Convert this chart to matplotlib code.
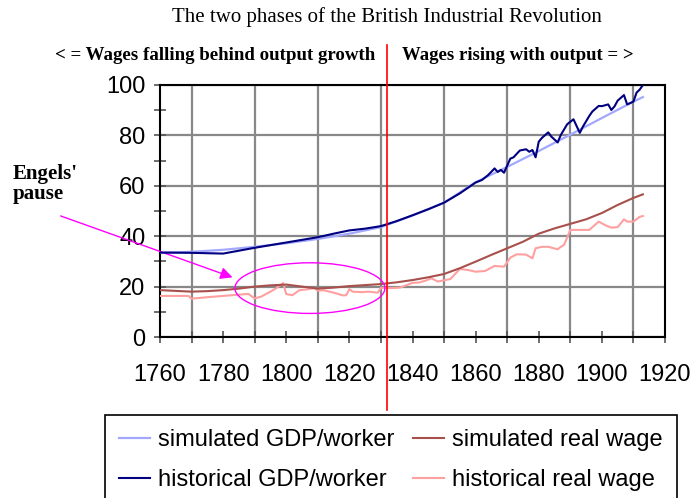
import matplotlib
matplotlib.use("Agg")
import matplotlib.pyplot as plt
from matplotlib.patches import Ellipse

# simulated GDP per worker
sim_gdp_years = [1760, 1770, 1780, 1790, 1800, 1810, 1820, 1830, 1840, 1850,
                 1860, 1870, 1880, 1890, 1900, 1910, 1913]
sim_gdp = [33.5, 33.8, 34.6, 35.8, 37.2, 38.9, 41.0, 43.6, 48.2, 53.3,
           61.4, 67.5, 73.8, 80.3, 86.9, 93.4, 95.2]

# historical GDP per worker
hist_gdp_years = [1760, 1770, 1780, 1790, 1800, 1810, 1815, 1820, 1825, 1830,
                  1835, 1840, 1845, 1850, 1855, 1860, 1862, 1864, 1866, 1867,
                  1868, 1869, 1871, 1872, 1874, 1876, 1877, 1878, 1879, 1880,
                  1881, 1883, 1884, 1886, 1887, 1889, 1891, 1893, 1894, 1896,
                  1897, 1899, 1900, 1902, 1903, 1904, 1905, 1907, 1908, 1910,
                  1911, 1912, 1913]
hist_gdp = [33.5, 33.4, 33.1, 35.4, 37.5, 39.6, 41.0, 42.3, 43.0, 44.0,
            46.0, 48.3, 50.7, 53.3, 57.0, 61.3, 62.3, 64.3, 66.9, 65.5,
            66.3, 65.2, 70.8, 71.3, 74.0, 74.5, 73.5, 74.2, 71.3, 77.5,
            79.0, 81.2, 79.5, 77.2, 80.2, 84.4, 86.4, 81.0, 83.5, 87.7,
            89.5, 91.7, 91.6, 92.3, 90.1, 91.5, 93.8, 96.0, 92.3, 93.4,
            97.0, 98.2, 100.0]

# simulated real wage
sim_wage_years = [1760, 1765, 1770, 1775, 1780, 1785, 1790, 1795, 1800, 1805,
                  1810, 1815, 1820, 1825, 1830, 1835, 1840, 1845, 1850, 1855,
                  1860, 1865, 1870, 1875, 1880, 1885, 1890, 1895, 1900, 1905,
                  1910, 1913]
sim_wage = [18.6, 18.3, 18.0, 18.2, 18.6, 19.2, 20.0, 20.5, 20.8, 20.0,
            19.2, 19.6, 20.2, 20.6, 21.0, 21.7, 22.6, 23.7, 25.0, 27.3,
            29.9, 32.6, 35.2, 37.8, 41.0, 43.1, 44.9, 46.7, 49.2, 52.4,
            55.2, 56.6]

# historical real wage
hist_wage_years = [1760, 1769, 1770, 1775, 1780, 1785, 1788, 1790, 1792, 1795,
                   1797, 1799, 1800, 1802, 1804, 1807, 1809, 1810, 1812, 1815,
                   1818, 1819, 1820, 1821, 1824, 1826, 1829, 1830, 1833, 1836,
                   1838, 1840, 1842, 1844, 1846, 1848, 1850, 1852, 1855, 1858,
                   1860, 1863, 1866, 1869, 1871, 1873, 1876, 1878, 1879, 1881,
                   1883, 1886, 1887, 1888, 1890, 1896, 1899, 1901, 1903, 1905,
                   1907, 1908, 1910, 1912, 1913]
hist_wage = [16.3, 16.3, 15.2, 15.8, 16.3, 16.8, 17.1, 15.3, 16.0, 18.0,
             19.5, 21.4, 17.0, 16.6, 18.5, 19.0, 19.4, 18.4, 18.5, 17.6,
             16.5, 16.6, 19.0, 18.0, 17.8, 18.0, 17.6, 19.5, 19.4, 19.6,
             20.5, 21.5, 21.6, 22.3, 23.3, 22.0, 22.5, 23.0, 27.0, 26.5,
             25.9, 26.2, 28.2, 27.9, 31.5, 32.8, 32.7, 31.2, 35.2, 35.8,
             35.8, 34.8, 35.8, 36.5, 42.5, 42.5, 45.8, 44.4, 43.4, 43.6,
             46.7, 45.8, 45.8, 47.7, 48.0]

split_year = 1832
pause_center = (1807.5, 19.4)

plt.rcParams["font.family"] = ["Liberation Sans", "DejaVu Sans"]
serif = ["Liberation Serif", "DejaVu Serif"]

fig = plt.figure(figsize=(6.91, 4.98), dpi=100)
W, H = 691, 498
ax = fig.add_axes([160 / W, 1 - 337 / H, 505 / W, 252 / H])

ax.plot(sim_gdp_years, sim_gdp, color="#a3a8ff", lw=1.6, label="simulated GDP/worker", zorder=3)
ax.plot(hist_gdp_years, hist_gdp, color="#000080", lw=1.5, label="historical GDP/worker", zorder=4)
ax.plot(sim_wage_years, sim_wage, color="#a8504c", lw=1.5, label="simulated real wage", zorder=4)
ax.plot(hist_wage_years, hist_wage, color="#ffa0a0", lw=1.5, label="historical real wage", zorder=3)

ax.set_xlim(1760, 1920)
ax.set_ylim(0, 100)
ax.set_xticks(range(1760, 1921, 20))
ax.set_xticks(range(1770, 1920, 20), minor=True)
ax.set_yticks(range(0, 101, 20))
ax.set_yticks(range(10, 100, 20), minor=True)
ax.tick_params(which="both", direction="inout", length=9, width=1.2, color="#555555")
ax.tick_params(axis="x", which="major", labelsize=17, pad=15)
ax.tick_params(axis="y", which="major", labelsize=17, pad=6)
ax.grid(axis="x", which="minor", color="#888888", lw=1.6)
ax.grid(axis="y", which="major", color="#888888", lw=1.6)
ax.set_axisbelow(True)
for s in ax.spines.values():
    s.set_linewidth(1.5)
    s.set_color("black")

ax.axvline(split_year, ymin=-0.29, ymax=1.16, color="red", lw=1.2, clip_on=False, zorder=5)

ax.add_patch(Ellipse(pause_center, 47.5, 20.1, fill=False, edgecolor="#ff00ff", lw=1.0, zorder=6))
ax.annotate("", xy=(1783.8, 23.3), xytext=(58, H - 215), textcoords="figure pixels",
            arrowprops=dict(arrowstyle="-|>", color="#ff00ff", lw=1.0, mutation_scale=18),
            annotation_clip=False)

fig.text(387 / W, 1 - 17 / H, "The two phases of the British Industrial Revolution",
         family=serif, fontsize=15, ha="center", va="center")
fig.text(55 / W, 1 - 55 / H, "< = Wages falling behind output growth",
         family=serif, fontsize=13.6, fontweight="bold", ha="left", va="center")
fig.text(402 / W, 1 - 55 / H, "Wages rising with output = >",
         family=serif, fontsize=13.5, fontweight="bold", ha="left", va="center")
fig.text(13 / W, 1 - 184 / H, "Engels'\npause", family=serif, fontsize=15,
         fontweight="bold", ha="left", va="center", linespacing=1.05)

handles, labels = ax.get_legend_handles_labels()
leg = fig.legend(handles, labels, ncol=2,
                 loc="upper left", bbox_to_anchor=(105 / W, 1 - 420 / H, 572 / W, 0.01),
                 mode="expand", fontsize=17, frameon=True, fancybox=False,
                 edgecolor="black", framealpha=1, handlelength=1.3, handletextpad=0.35,
                 labelspacing=0.76, borderpad=0.6, borderaxespad=0)
leg.get_frame().set_linewidth(1.2)

fig.savefig("out.png", dpi=100)
